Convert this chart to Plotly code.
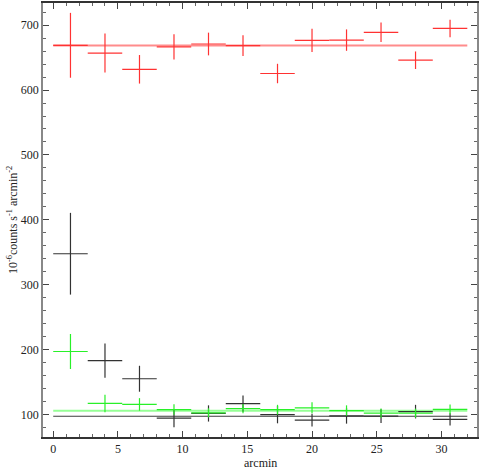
import plotly.graph_objects as go

# Radial bins (arcmin)
bin_centers = [1.333, 4.0, 6.667, 9.333, 12.0, 14.667, 17.333, 20.0, 22.667, 25.333, 28.0, 30.667]
bin_halfwidth = [1.333] * 12
model_x = [0.0, 32.0]

# Surface brightness profiles (1e-6 counts s^-1 arcmin^-2)
red_vals = [669, 657, 632, 666.5, 671, 668.5, 625.5, 676.5, 677, 689, 646, 695]
red_errs = [50, 30, 22, 19.5, 17.5, 16, 15, 18, 16.5, 15, 13.5, 13.5]
red_model = 668.6

black_vals = [347.7, 183, 155, 94.3, 101.5, 116.5, 99.8, 91.2, 97.8, 97.4, 104.3, 92.3]
black_errs = [63, 26.5, 20, 14, 12.5, 12.5, 13.5, 10, 12, 10.5, 10.5, 9.5]
black_model = 97.2

green_vals = [197, 117, 115.4, 107.5, 102.5, 109, 107.3, 110.2, 106, 102, 102, 107.8]
green_errs = [27, 13.5, 9.7, 8, 7, 7, 7.5, 8.5, 8, 7, 7, 7.5]
green_model = 105.5

x_ticks = [0, 5, 10, 15, 20, 25, 30]
y_ticks = [100, 200, 300, 400, 500, 600, 700]

fig = go.Figure()

def add_profile(vals, errs, color):
    fig.add_trace(go.Scatter(
        x=bin_centers, y=vals, mode="markers",
        marker=dict(size=0, color=color, opacity=0),
        error_x=dict(type="data", array=bin_halfwidth, color=color, thickness=1.2, width=0),
        error_y=dict(type="data", array=errs, color=color, thickness=1.2, width=0),
        showlegend=False, hoverinfo="skip"))

def add_model(level, color, w):
    fig.add_trace(go.Scatter(
        x=model_x, y=[level] * len(model_x), mode="lines",
        line=dict(color=color, width=w), showlegend=False, hoverinfo="skip"))

add_model(red_model, "rgb(255,140,140)", 2)
add_model(green_model, "rgb(150,255,150)", 2)
add_model(black_model, "rgb(60,60,60)", 1.2)
add_profile(red_vals, red_errs, "rgb(255,50,50)")
add_profile(black_vals, black_errs, "rgb(50,50,50)")
add_profile(green_vals, green_errs, "rgb(40,240,40)")

font = dict(family="Liberation Serif", size=12, color="#222")

fig.update_layout(
    width=480, height=470,
    margin=dict(l=43, r=1, t=1, b=33),
    paper_bgcolor="white", plot_bgcolor="white",
    font=font,
    xaxis=dict(range=[-0.79, 32.75], tickvals=x_ticks, ticks="inside", ticklen=6,
               tickcolor="#444", showgrid=False, zeroline=False,
               showline=True, linecolor="#333", linewidth=1.5, mirror="allticks",
               minor=dict(ticks="inside", dtick=1, ticklen=3, tickcolor="#666"),
               tickfont=font),
    yaxis=dict(range=[65.2, 734.2], tickvals=y_ticks, ticks="inside", ticklen=6,
               tickcolor="#444", showgrid=False, zeroline=False,
               showline=True, linecolor="#888", linewidth=1.5, mirror="allticks",
               minor=dict(ticks="inside", dtick=20, ticklen=3, tickcolor="#666"),
               tickfont=font),
    annotations=[
        dict(text="arcmin", xref="paper", yref="paper", x=0.5, y=0, yshift=-26,
             showarrow=False, xanchor="center", yanchor="middle", font=font),
        dict(text="10<sup>-6</sup>counts s<sup>-1</sup> arcmin<sup>-2</sup>",
             xref="paper", yref="paper", x=0, y=0.5, xshift=-31, textangle=-90,
             showarrow=False, xanchor="center", yanchor="middle", font=font),
    ],
)

fig.write_html("out.html", config={"displayModeBar": False},
               post_script="document.body.style.margin='0';")
